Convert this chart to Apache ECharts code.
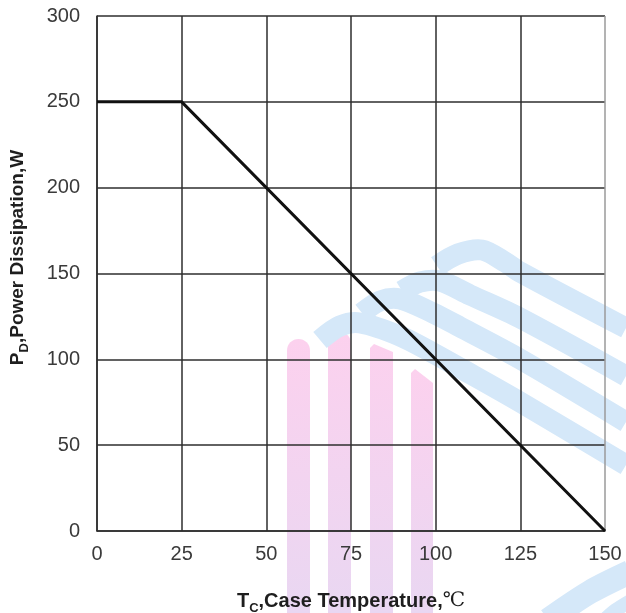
<!DOCTYPE html>
<html>
<head>
<meta charset="utf-8">
<script src="https://cdn.jsdelivr.net/npm/echarts@6/dist/echarts.min.js"></script>
<style>
  html, body { margin: 0; padding: 0; background: #fff; }
  #chart { width: 626px; height: 613px; }
</style>
</head>
<body>
<div id="chart"></div>
<script>
// Power derating curve: P_D versus case temperature
const caseTemp = [0, 25, 150];          // °C
const powerDiss = [250, 250, 0];        // W
const xTicks = [0, 25, 50, 75, 100, 125, 150];
const yTicks = [0, 50, 100, 150, 200, 250, 300];

const chart = echarts.init(document.getElementById('chart'), null, { renderer: 'canvas' });

const GRID = '#2e2e2e';
const LABEL = '#3a3a3a';
const TITLE = '#1e1e1e';
const FONT = 'Liberation Sans, Arial, sans-serif';

// background logo: pink vertical stripes and blue swooshes
const pinkFill = new echarts.graphic.LinearGradient(0, 0, 0, 1, [
  { offset: 0, color: '#fcd1ee' },
  { offset: 1, color: '#e9d7f2' }
]);
const blue = '#d5e8f9';
function roundStripe(x, y, w) {
  return { type: 'rect', z: -10, silent: true,
    shape: { x: x, y: y, width: w, height: 613 - y, r: [12, 12, 0, 0] },
    style: { fill: pinkFill } };
}
function slantStripe(x, yl, yr, w) {
  return { type: 'polygon', z: -10, silent: true,
    shape: { points: [[x, yl + 4], [x + 4, yl], [x + w, yr], [x + w, 613], [x, 613]] },
    style: { fill: pinkFill } };
}
function band(pts, w) {
  return { type: 'polyline', z: -9, silent: true,
    shape: { points: pts, smooth: 0.3 },
    style: { stroke: blue, lineWidth: w || 21, fill: null, lineCap: 'butt' } };
}

function titleRich(size) {
  return {
    b: { fontFamily: FONT, fontWeight: 'bold', fontSize: size, color: TITLE, lineHeight: 24, verticalAlign: 'bottom' },
    s: { fontFamily: FONT, fontWeight: 'bold', fontSize: 13, color: TITLE, lineHeight: 24, verticalAlign: 'bottom', padding: [0, 0, -4, 0] },
    u: { fontFamily: 'DejaVu Serif, serif', fontWeight: 'normal', fontSize: size, color: TITLE, lineHeight: 24, verticalAlign: 'bottom' }
  };
}

chart.setOption({
  animation: false,
  backgroundColor: '#ffffff',
  graphic: [
    roundStripe(287, 339, 23),
    roundStripe(328, 332, 23),
    slantStripe(370, 344, 352, 23),
    slantStripe(411, 369, 383, 22),
    band([[437, 266], [458, 254], [482, 250], [505, 262], [520, 272], [626, 328]]),
    band([[402, 291], [420, 282], [440, 281], [470, 295], [520, 318], [626, 376]]),
    band([[362, 313], [380, 301], [400, 299], [433, 313], [460, 327], [520, 359], [626, 422]]),
    band([[320, 340], [340, 326], [360, 323], [400, 336], [433, 353], [460, 368], [520, 402], [626, 465]]),
    band([[548, 620], [590, 592], [630, 572]], 24),
    band([[602, 622], [616, 610], [632, 600]], 14)
  ],
  grid: { left: 97, right: 21, top: 16, bottom: 82, containLabel: false, outerBoundsMode: 'none' },
  xAxis: {
    type: 'value', min: 0, max: 150, interval: 25,
    name: '{b|T}{s|C}{b|,Case Temperature,}{u|℃}',
    nameLocation: 'middle', nameGap: 56,
    nameTextStyle: { rich: titleRich(20) },
    axisLine: { show: true, lineStyle: { color: GRID, width: 1.5 } },
    axisTick: { show: false },
    axisLabel: { margin: 13, fontFamily: FONT, fontSize: 20, color: LABEL,
      formatter: v => xTicks.includes(v) ? String(v) : '' },
    splitLine: { show: true, lineStyle: { color: [GRID, GRID, GRID, GRID, GRID, GRID, '#9a9a9a'], width: 1.5 } }
  },
  yAxis: {
    type: 'value', min: 0, max: 300, interval: 50,
    name: '{b|P}{s|D}{b|,Power Dissipation,W}',
    nameLocation: 'middle', nameGap: 70, nameRotate: 90,
    nameTextStyle: { rich: titleRich(19), padding: [0, 0, 0, 32] },
    axisLine: { show: true, lineStyle: { color: GRID, width: 1.5 } },
    axisTick: { show: false },
    axisLabel: { margin: 17, fontFamily: FONT, fontSize: 20, color: LABEL,
      formatter: v => yTicks.includes(v) ? String(v) : '' },
    splitLine: { show: true, lineStyle: { color: GRID, width: 1.5 } }
  },
  series: [{
    type: 'line',
    data: caseTemp.map((t, i) => [t, powerDiss[i]]),
    showSymbol: false,
    lineStyle: { color: '#111111', width: 3 },
    z: 5
  }]
});
</script>
</body>
</html>
